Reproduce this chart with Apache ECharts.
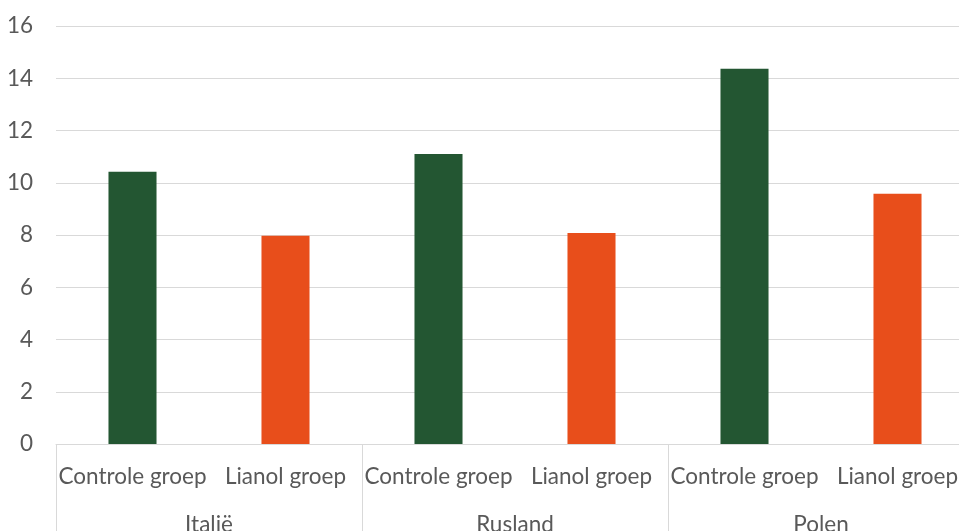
<!DOCTYPE html>
<html>
<head>
<meta charset="utf-8">
<script src="https://cdn.jsdelivr.net/npm/echarts@6/dist/echarts.min.js"></script>
<style>
  html, body { margin: 0; padding: 0; background: #ffffff; }
  #chart { width: 959px; height: 531px; }
</style>
</head>
<body>
<div id="chart"></div>
<script>
// Group labels (inner axis level) and countries (outer axis level)
const groups = ['Controle groep', 'Lianol groep'];
const countries = ['Italië', 'Rusland', 'Polen'];
// Values per country
const controleValues = [10.42, 11.1, 14.36];
const lianolValues = [7.97, 8.08, 9.58];
// Y axis range
const yMin = 0;
const yMax = 16;
const yStep = 2;

const groupColors = ['#235632', '#e84e1b'];

// Flatten into one category per (country, group)
const categories = [];
const barData = [];
countries.forEach((c, i) => {
  [controleValues[i], lianolValues[i]].forEach((v, g) => {
    categories.push(groups[g]);
    barData.push({ value: v, itemStyle: { color: groupColors[g] } });
  });
});

const fontFamily = 'Lato, "Noto Sans", sans-serif';
const textColor = '#595959';
const lineColor = '#d9d9d9';

const chart = echarts.init(document.getElementById('chart'), null, { renderer: 'canvas' });
chart.setOption({
  animation: false,
  backgroundColor: '#ffffff',
  // plot area runs slightly past the right edge of the canvas; labels may overflow
  grid: { left: 56, width: 918, top: 26, bottom: 87, containLabel: false, outerBoundsMode: 'none' },
  xAxis: [
    {
      type: 'category',
      data: categories,
      position: 'bottom',
      axisLine: { show: true, lineStyle: { color: lineColor, width: 1 } },
      axisTick: { show: false },
      axisLabel: { interval: 0, color: textColor, fontFamily: fontFamily, fontSize: 22.5, margin: 21 },
      splitLine: { show: false }
    },
    {
      type: 'category',
      data: countries,
      position: 'bottom',
      axisLine: { show: false },
      axisTick: { show: true, length: 95, lineStyle: { color: lineColor, width: 1 } },
      axisLabel: { interval: 0, color: textColor, fontFamily: fontFamily, fontSize: 22.5, margin: 69 },
      splitLine: { show: false }
    }
  ],
  yAxis: {
    type: 'value',
    min: yMin,
    max: yMax,
    interval: yStep,
    axisLine: { show: false },
    axisTick: { show: false },
    axisLabel: { color: textColor, fontFamily: fontFamily, fontSize: 22.5, margin: 23 },
    splitLine: { show: true, lineStyle: { color: lineColor, width: 1 } }
  },
  series: [
    {
      type: 'bar',
      xAxisIndex: 0,
      data: barData,
      barWidth: '31.4%'
    }
  ]
});
</script>
</body>
</html>
